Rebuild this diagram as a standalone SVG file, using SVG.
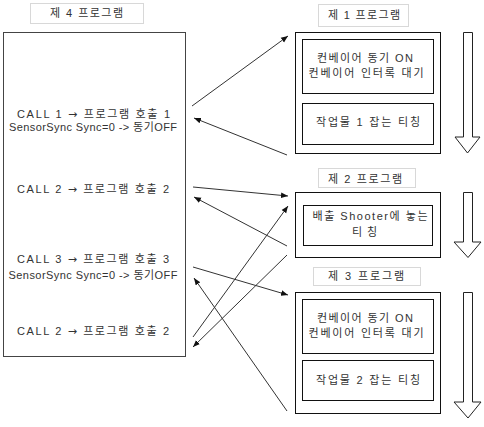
<svg xmlns="http://www.w3.org/2000/svg" width="484" height="427" viewBox="0 0 484 427">
<style>
text{font-family:"Liberation Sans","Noto Sans CJK KR",sans-serif;font-size:11px;fill:#333;text-anchor:middle}
.ar{font-family:"DejaVu Sans",sans-serif}
.title{fill:#fff;stroke:#d8d8d8;stroke-width:1}
.box{fill:#fff;stroke:#111;stroke-width:1}
.big{fill:#fff;stroke:#444;stroke-width:1}
.conn line{stroke:#333;stroke-width:1}
.down{fill:#fff;stroke:#222;stroke-width:1}
</style>
<defs>
<marker id="ah" viewBox="0 0 10 10" refX="10" refY="5" markerWidth="7" markerHeight="7" orient="auto" markerUnits="userSpaceOnUse">
<path d="M0,1 L10,5 L0,9 Z" fill="#111"/>
</marker>
</defs>
<rect width="484" height="427" fill="#fff"/>

<g id="prog4">
<rect class="title" x="30.5" y="3.5" width="113" height="20"/>
<text x="86.5" y="17" textLength="73" lengthAdjust="spacing">제 4 프로그램</text>
<rect class="big" x="3.5" y="32.5" width="182" height="324"/>
<text x="93.5" y="118" textLength="153" lengthAdjust="spacing">CALL 1 <tspan class="ar">→</tspan> 프로그램 호출 1</text>
<text x="93" y="131" textLength="168" lengthAdjust="spacing">SensorSync Sync=0 -&gt; 동기OFF</text>
<text x="93" y="193" textLength="152" lengthAdjust="spacing">CALL 2 <tspan class="ar">→</tspan> 프로그램 호출 2</text>
<text x="93" y="263" textLength="152" lengthAdjust="spacing">CALL 3 <tspan class="ar">→</tspan> 프로그램 호출 3</text>
<text x="93" y="279" textLength="169" lengthAdjust="spacing">SensorSync Sync=0 -&gt; 동기OFF</text>
<text x="93" y="335" textLength="152" lengthAdjust="spacing">CALL 2 <tspan class="ar">→</tspan> 프로그램 호출 2</text>
</g>

<g id="prog1">
<rect class="title" x="318.5" y="4.5" width="90" height="22"/>
<text x="364" y="19" textLength="72" lengthAdjust="spacing">제 1 프로그램</text>
<rect class="box" x="295.5" y="32.5" width="145" height="121"/>
<rect class="box" x="302.5" y="39.5" width="131" height="54"/>
<text x="365" y="62" textLength="96" lengthAdjust="spacing">컨베이어 동기 ON</text>
<text x="366" y="77" textLength="115" lengthAdjust="spacing">컨베이어 인터록 대기</text>
<rect class="box" x="302.5" y="103.5" width="131" height="41"/>
<text x="368" y="126" textLength="104" lengthAdjust="spacing">작업물 1 잡는 티칭</text>
<path class="down" d="M463.5,32.5 H472.5 V137 H480 L467.5,153 L455,137 H463.5 Z"/>
</g>

<g id="prog2">
<rect class="title" x="318.5" y="168.5" width="97" height="19"/>
<text x="365" y="183" textLength="74" lengthAdjust="spacing">제 2 프로그램</text>
<rect class="box" x="295.5" y="192.5" width="145" height="65"/>
<rect class="box" x="303.5" y="205.5" width="129" height="40"/>
<text x="370" y="220" textLength="115" lengthAdjust="spacing">배출 Shooter에 놓는</text>
<text x="364.5" y="236" textLength="25" lengthAdjust="spacing">티칭</text>
<path class="down" d="M463.5,192.5 H472.5 V242 H481 L468,257.5 L454,242 H463.5 Z"/>
</g>

<g id="prog3">
<rect class="title" x="313.5" y="267.5" width="107" height="18"/>
<text x="366" y="280" textLength="76" lengthAdjust="spacing">제 3 프로그램</text>
<rect class="box" x="295.5" y="292.5" width="145" height="121"/>
<rect class="box" x="302.5" y="299.5" width="131" height="54"/>
<text x="365" y="322" textLength="96" lengthAdjust="spacing">컨베이어 동기 ON</text>
<text x="366" y="337" textLength="115" lengthAdjust="spacing">컨베이어 인터록 대기</text>
<rect class="box" x="302.5" y="360.5" width="131" height="40"/>
<text x="368" y="384" textLength="104" lengthAdjust="spacing">작업물 2 잡는 티칭</text>
<path class="down" d="M463.5,292.5 H472.5 V402 H481 L468,418 L454,402 H463.5 Z"/>
</g>

<g id="connectors" class="conn">
<line x1="192" y1="106" x2="288" y2="36" marker-end="url(#ah)"/>
<line x1="287" y1="155" x2="194" y2="118" marker-end="url(#ah)"/>
<line x1="193" y1="187" x2="288" y2="196" marker-end="url(#ah)"/>
<line x1="287" y1="246" x2="194" y2="197" marker-end="url(#ah)"/>
<line x1="193" y1="337" x2="288" y2="206" marker-end="url(#ah)"/>
<line x1="287" y1="255" x2="193" y2="347" marker-end="url(#ah)"/>
<line x1="193" y1="267" x2="288" y2="295" marker-end="url(#ah)"/>
<line x1="287" y1="411" x2="194" y2="278" marker-end="url(#ah)"/>
</g>
</svg>
